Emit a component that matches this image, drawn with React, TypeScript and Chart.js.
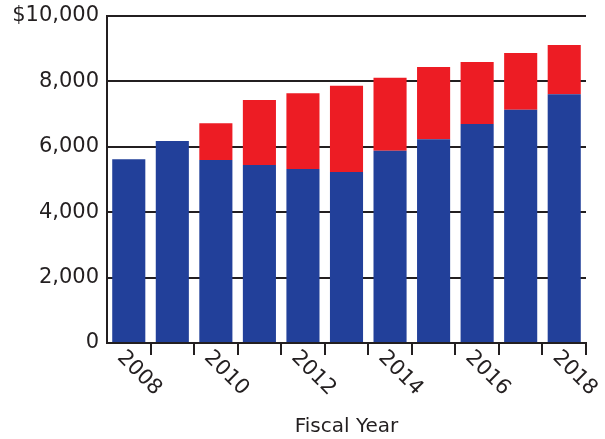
import React, { useEffect, useRef } from "react";
import { Chart, registerables } from "chart.js";

Chart.register(...registerables);

const years = [2008, 2009, 2010, 2011, 2012, 2013, 2014, 2015, 2016, 2017, 2018];
const baseValues = [5620, 6180, 5600, 5440, 5320, 5230, 5880, 6230, 6700, 7130, 7610];
const addedValues = [0, 0, 1120, 1990, 2320, 2640, 2230, 2210, 1890, 1740, 1500];
const yTicks = [0, 2000, 4000, 6000, 8000, 10000];

const INK = "#231F20";
const BLUE = "#22409A";
const RED = "#ED1C24";
const FONT = "'DejaVu Sans', sans-serif";

const rotatedLabels = {
  id: "rotatedLabels",
  afterDraw(chart: any) {
    const xs = chart.scales.x;
    const ctx = chart.ctx;
    ctx.save();
    ctx.font = `21px ${FONT}`;
    ctx.fillStyle = INK;
    ctx.textAlign = "left";
    ctx.textBaseline = "top";
    years.forEach((yr, i) => {
      if (yr % 2 !== 0) return;
      const x = xs.getPixelForValue(i);
      ctx.save();
      ctx.translate(x - 1, xs.top + 4);
      ctx.rotate(Math.PI / 4);
      ctx.fillText(String(yr), 0, 0);
      ctx.restore();
    });
    ctx.restore();
  },
};

export default function App() {
  const ref = useRef<HTMLCanvasElement | null>(null);
  useEffect(() => {
    if (!ref.current) return;
    Chart.defaults.font.family = FONT;
    const chart = new Chart(ref.current, {
      type: "bar",
      data: {
        labels: years.map(String),
        datasets: [
          { label: "Base", data: baseValues, backgroundColor: BLUE },
          { label: "Added", data: addedValues, backgroundColor: RED },
        ],
      },
      options: {
        responsive: false,
        animation: false,
        devicePixelRatio: 1,
        layout: { padding: { top: 16, right: 19, bottom: 0, left: 0 } },
        plugins: { legend: { display: false }, tooltip: { enabled: false } },
        datasets: { bar: { categoryPercentage: 1, barPercentage: 0.76 } },
        scales: {
          x: {
            stacked: true,
            afterFit: (s: any) => {
              s.height = 96;
              s.paddingLeft = 0;
              s.paddingRight = 0;
            },
            ticks: { display: false },
            grid: {
              offset: true,
              drawOnChartArea: false,
              drawTicks: true,
              tickLength: 12,
              lineWidth: 2,
              color: (c: any) => (c.index === 0 ? "rgba(0,0,0,0)" : INK),
            },
            border: { color: INK, width: 2 },
            title: {
              display: true,
              text: "Fiscal Year",
              color: INK,
              font: { size: 20, family: FONT },
              padding: { top: 0, bottom: 0 },
            },
          },
          y: {
            stacked: true,
            min: 0,
            max: 10000,
            afterFit: (s: any) => {
              s.width = 107;
              s.paddingTop = 0;
              s.paddingBottom = 0;
            },
            afterBuildTicks: (s: any) => {
              s.ticks = yTicks.map((v) => ({ value: v }));
            },
            ticks: {
              color: INK,
              padding: 8,
              font: { size: 21, family: FONT },
              callback: (v: any) =>
                (Number(v) === 10000 ? "$" : "") + Number(v).toLocaleString("en-US"),
            },
            grid: { color: INK, lineWidth: 2, drawTicks: false },
            border: { color: INK, width: 2 },
          },
        },
      },
      plugins: [rotatedLabels],
    });
    return () => chart.destroy();
  }, []);
  return (
    <div style={{ position: "absolute", left: 0, top: 0, width: 605, height: 439, background: "#fff" }}>
      <canvas ref={ref} width={605} height={439} />
    </div>
  );
}
